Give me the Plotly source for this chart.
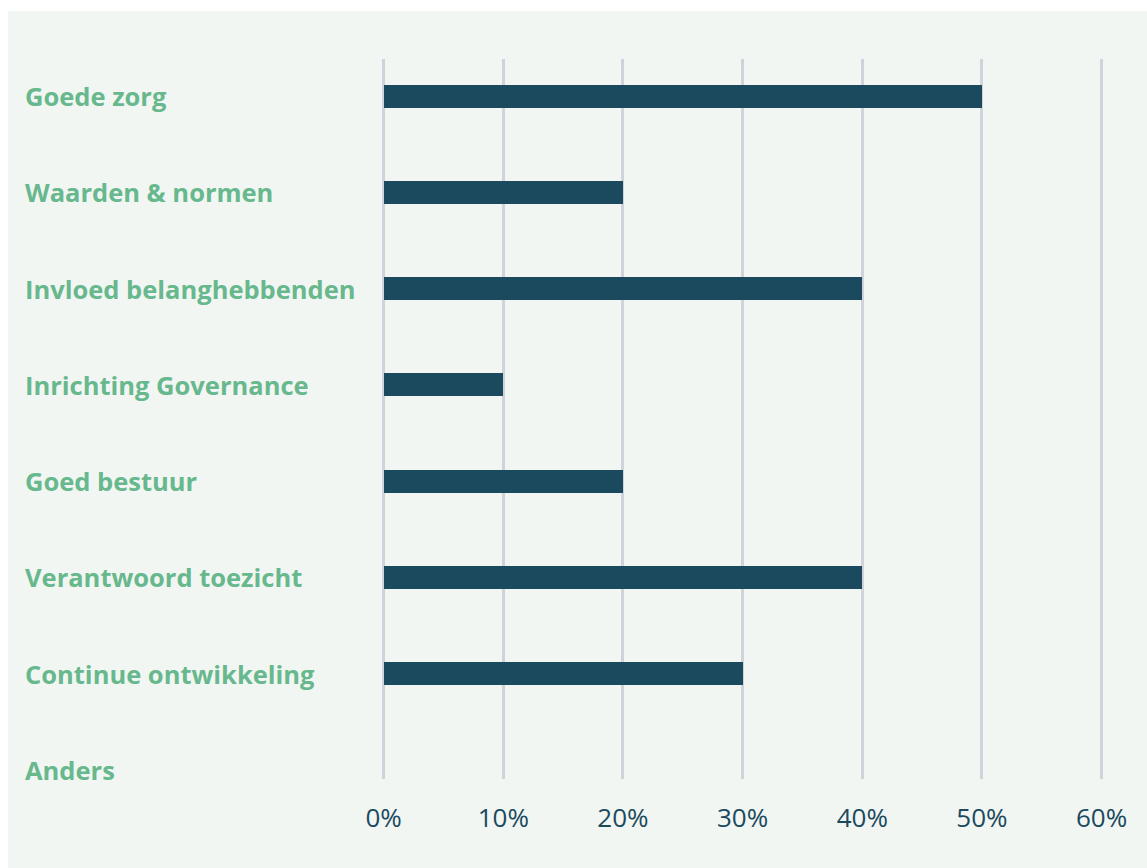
import plotly.graph_objects as go

categories = ["Goede zorg", "Waarden & normen", "Invloed belanghebbenden",
              "Inrichting Governance", "Goed bestuur", "Verantwoord toezicht",
              "Continue ontwikkeling", "Anders"]
values = [50, 20, 40, 10, 20, 40, 30, 0]
tick_vals = [0, 10, 20, 30, 40, 50, 60]
tick_text = ["0%", "10%", "20%", "30%", "40%", "50%", "60%"]

W, H = 1147, 868
X0_PX, X60_PX = 384, 1102
XMIN, XMAX = -0.3, 60.2
k = (X60_PX - X0_PX) / 60.0
L = round(X0_PX + XMIN * k)
R = round(W - (X0_PX + XMAX * k))
T, B = 59, 89
pw, ph = W - L - R, H - T - B

def px_x(p):
    return (p - L) / pw

def px_y(p):
    return (H - B - p) / ph

BG = "#f2f6f3"
BAR = "#1b4a5e"
GREEN = "#67b88d"
GRID = "#d0d3dc"

fig = go.Figure()
fig.add_trace(go.Bar(
    y=categories, x=values, orientation="h",
    marker=dict(color=BAR, line=dict(width=0)),
    width=0.24, hoverinfo="skip",
))

for c in categories:
    fig.add_annotation(
        x=px_x(23), xref="paper", y=c, yref="y",
        text="<b>" + c + "</b>", showarrow=False,
        xanchor="left", yanchor="middle",
        font=dict(family="Open Sans", size=25.5, color=GREEN),
    )

fig.add_shape(type="rect", xref="paper", yref="paper",
              x0=px_x(8), x1=px_x(W + 5), y0=px_y(11), y1=px_y(H + 5),
              fillcolor=BG, line=dict(width=0), layer="below")

fig.update_layout(
    width=W, height=H,
    margin=dict(l=L, r=R, t=T, b=B, pad=0),
    paper_bgcolor="white",
    plot_bgcolor="rgba(0,0,0,0)",
    showlegend=False,
    bargap=0,
    xaxis=dict(
        range=[XMIN, XMAX], tickvals=tick_vals, ticktext=tick_text,
        showgrid=True, gridcolor=GRID, gridwidth=3,
        zeroline=False, showline=False, ticks="",
        tickfont=dict(family="Open Sans", size=26, color=BAR, weight=400),
        ticklabelstandoff=21,
    ),
    yaxis=dict(
        categoryorder="array", categoryarray=categories,
        range=[7.095, -0.385],
        showticklabels=False, showgrid=False, zeroline=False,
        showline=False, ticks="",
    ),
)

fig.write_html("out.html")
